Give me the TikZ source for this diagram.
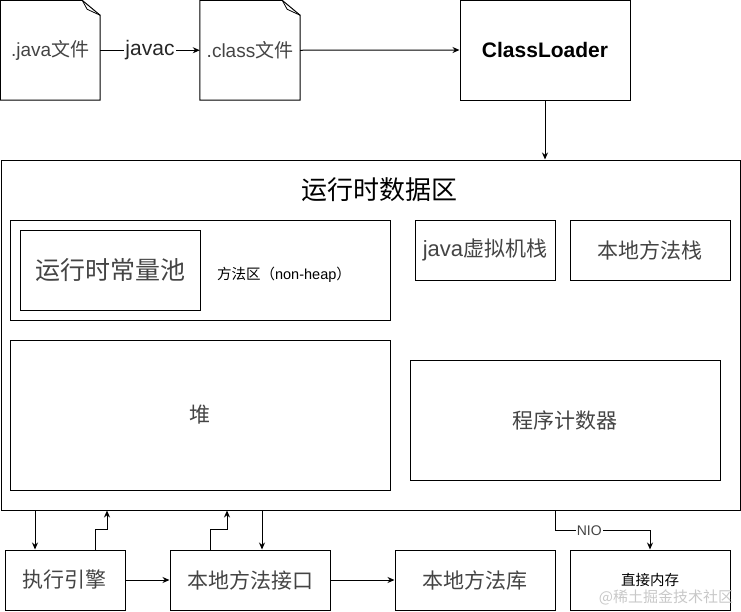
\documentclass[tikz,border=0pt]{standalone}
\usepackage{fontspec}
\setmainfont{Liberation Sans}
\newfontfamily\cjk{Noto Sans CJK SC}
\usetikzlibrary{arrows.meta,positioning,calc}
\definecolor{txtgray}{HTML}{444444}
\definecolor{wmgray}{HTML}{C8C8C8}
\tikzset{
  box/.style={draw=black, line width=1pt, inner sep=0pt},
  plain/.style={inner sep=0pt},
  arr/.style={line width=1pt, -{Stealth[length=7pt,width=6pt]}},
  lbl/.style={fill=white, inner sep=1pt},
  glabel/.style={text=txtgray, font=\fontsize{21}{24}\selectfont}
}
\begin{document}
\begin{tikzpicture}[x=1pt,y=-1pt]
\useasboundingbox (0,0) rectangle (741,611);
% source files (note shapes)
\node[plain, minimum width=99.5pt, minimum height=99.5pt, text=txtgray,
  font=\fontsize{19}{21}\selectfont] (java) at (50.25,50.25) {.java{\cjk 文件}};
\node[plain, minimum width=100pt, minimum height=99.5pt, text=txtgray,
  font=\fontsize{19}{21}\selectfont] (cls) at (250,50.25) {.class{\cjk 文件}};
\foreach \n in {java,cls}{
  \draw[line width=1pt, line join=miter] (\n.south west) -- (\n.north west) -- ([xshift=-18pt]\n.north east)
     -- ([yshift=-15pt]\n.north east) -- (\n.south east) -- cycle;
  \draw[line width=0.8pt] ([xshift=-18pt]\n.north east) -- ([xshift=-13pt,yshift=-9pt]\n.north east)
     -- ([yshift=-15pt]\n.north east);
}
\node[box, minimum width=170pt, minimum height=100pt,
  font=\bfseries\fontsize{21}{24}\selectfont] (cl) at (545,50) {ClassLoader};
% runtime data area
\node[box, minimum width=739pt, minimum height=350pt] (rt) at (370.5,335) {};
\node[plain, font=\cjk\fontsize{26}{28}\selectfont] (title) at (379,190) {运行时数据区};
\node[box, minimum width=380pt, minimum height=100pt] (ma) at (200,270) {};
\node[box, minimum width=180pt, minimum height=80pt, text=txtgray,
  font=\cjk\fontsize{25}{28}\selectfont] (pool) at (110,270) {运行时常量池};
\node[plain, font=\fontsize{14.5}{16}\selectfont] (malbl) at (284,275) {{\cjk 方法区（}non-heap{\cjk ）}};
\node[box, glabel, minimum width=140pt, minimum height=60pt, font=\fontsize{22}{24}\selectfont] (jvms) at (485,250) {java{\cjk\fontsize{21}{24}\selectfont 虚拟机栈}};
\node[box, glabel, minimum width=160pt, minimum height=60pt, font=\cjk\fontsize{21}{24}\selectfont] (nms) at (650,250) {本地方法栈};
\node[box, glabel, minimum width=380pt, minimum height=150pt, font=\cjk\fontsize{21}{24}\selectfont] (heap) at (200,415) {堆};
\node[box, glabel, minimum width=310pt, minimum height=120pt, font=\cjk\fontsize{21}{24}\selectfont] (pc) at (565,420) {程序计数器};
% bottom row
\node[box, glabel, minimum width=120pt, minimum height=60pt, font=\cjk\fontsize{21}{24}\selectfont] (exec) at (65,580) {执行引擎};
\node[box, glabel, minimum width=160pt, minimum height=60pt, font=\cjk\fontsize{21}{24}\selectfont] (ni) at (250,580) {本地方法接口};
\node[box, glabel, minimum width=160pt, minimum height=60pt, font=\cjk\fontsize{21}{24}\selectfont] (nl) at (475,580) {本地方法库};
\node[box, minimum width=160pt, minimum height=60pt, font=\cjk\fontsize{14.5}{16}\selectfont] (dm) at (650,580) {直接内存};
% watermark
\node[plain, text=wmgray, font=\cjk\fontsize{15}{16}\selectfont] (wm) at (666,597) {@稀土掘金技术社区};
% connectors
\draw[arr] (java.east) -- node[lbl, text=black!85, font=\fontsize{21}{23}\selectfont]{javac} (cls.west);
\draw[arr] (cls.east) -- (cl.west);
\draw[arr] (cl.south) -- (cl.south |- rt.north);
\draw[arr] ([xshift=-30pt]exec.north |- rt.south) -- ([xshift=-30pt]exec.north);
\draw[arr] ([xshift=30pt]exec.north) -- ++(0,-20) -| ([xshift=42pt]exec.north |- rt.south);
\draw[arr] ([xshift=-40pt]ni.north) -- ++(0,-20) -| ([xshift=-23pt]ni.north |- rt.south);
\draw[arr] ([xshift=12pt]ni.north |- rt.south) -- ([xshift=12pt]ni.north);
\draw[arr] (exec.east) -- (ni.west);
\draw[arr] (ni.east) -- (nl.west);
\draw[arr] ([xshift=-95pt]dm.north |- rt.south) -- ++(0,20)
   -| node[pos=0.18, lbl, font=\fontsize{14}{16}\selectfont, text=txtgray]{NIO} (dm.north);
\end{tikzpicture}
\end{document}
